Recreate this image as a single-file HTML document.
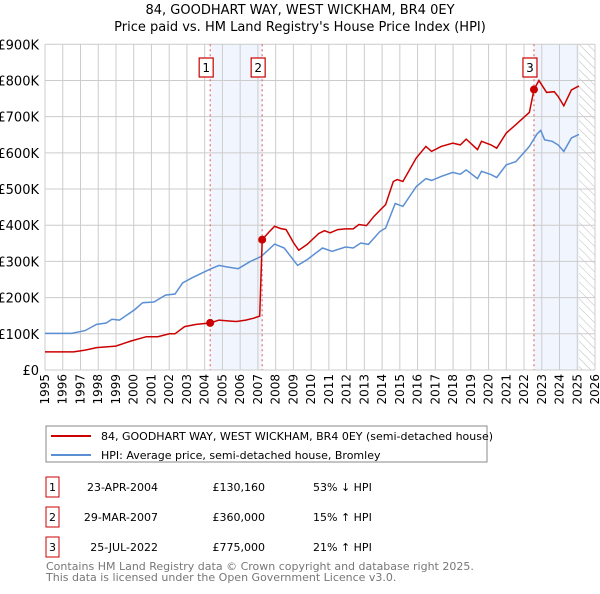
<!DOCTYPE html>
<html><head><meta charset="utf-8"><style>
body{margin:0;background:#fff;font-family:"DejaVu Sans","Liberation Sans",sans-serif;}
svg text{font-family:"DejaVu Sans","Liberation Sans",sans-serif;}
</style></head><body>
<svg id="c" width="600" height="590" xmlns="http://www.w3.org/2000/svg">
<defs><pattern id="hatch" width="6" height="6" patternUnits="userSpaceOnUse" patternTransform="rotate(-45)"><line x1="0" y1="0" x2="0" y2="6" stroke="#bbb" stroke-width="1"/></pattern></defs>
<text x="300" y="14" text-anchor="middle" font-size="13">84, GOODHART WAY, WEST WICKHAM, BR4 0EY</text>
<text x="300" y="31" text-anchor="middle" font-size="13">Price paid vs. HM Land Registry's House Price Index (HPI)</text>
<g id="plot"></g>
<rect x="46" y="426" width="441" height="36" fill="none" stroke="#888"/>
<line x1="51" y1="436" x2="91" y2="436" stroke="#cc0000" stroke-width="2"/>
<text x="101" y="440" font-size="11">84, GOODHART WAY, WEST WICKHAM, BR4 0EY (semi-detached house)</text>
<line x1="51" y1="455" x2="91" y2="455" stroke="#5b8fd4" stroke-width="2"/>
<text x="101" y="459" font-size="11">HPI: Average price, semi-detached house, Bromley</text>
<g id="table" font-size="11"></g>
<text x="46" y="570" font-size="11" fill="#777">Contains HM Land Registry data © Crown copyright and database right 2025.</text>
<text x="46" y="581" font-size="11" fill="#777">This data is licensed under the Open Government Licence v3.0.</text>
</svg>
<script>
const hpiYears=[1995.0,1996.5,1997.26,1997.91,1998.45,1998.77,1999.2,2000.06,2000.5,2001.14,2001.79,2002.33,2002.76,2003.3,2004.27,2004.81,2005.24,2005.89,2006.54,2007.19,2007.94,2008.48,2009.24,2009.78,2010.64,2011.18,2011.94,2012.37,2012.8,2013.23,2013.88,2014.2,2014.74,2015.17,2015.93,2016.47,2016.79,2017.33,2017.98,2018.41,2018.74,2019.38,2019.6,2020.14,2020.46,2021.0,2021.54,2022.3,2022.73,2022.94,2023.16,2023.59,2023.92,2024.24,2024.67,2025.1];
const hpiValues=[101,101,109,126,130,140,138,167,186,188,207,210,241,255,278,289,285,280,299,314,348,337,289,305,337,328,340,337,351,347,383,392,460,452,507,529,524,535,546,541,553,529,549,540,532,567,576,618,652,662,636,632,622,604,641,651];
const ppYears=[1995.0,1996.61,1997.26,1997.91,1998.99,1999.85,2000.71,2001.36,2002.01,2002.33,2002.87,2003.52,2004.31,2004.81,2005.46,2005.78,2006.32,2006.76,2007.1,2007.24,2007.62,2007.94,2008.27,2008.59,2009.02,2009.3,2009.78,2010.42,2010.75,2011.07,2011.5,2011.94,2012.37,2012.69,2013.12,2013.55,2014.2,2014.63,2014.85,2015.17,2015.93,2016.47,2016.79,2017.33,2017.98,2018.41,2018.74,2019.38,2019.6,2020.14,2020.46,2021.0,2021.54,2022.3,2022.56,2022.84,2023.27,2023.7,2023.92,2024.24,2024.67,2025.1];
const ppValues=[50,50,55,62,66,80,92,92,100,100,120,126,130,138,135,134,138,143,149,360,381,397,391,388,351,331,347,377,385,379,388,390,390,402,399,425,457,521,526,521,586,618,604,618,627,622,638,609,632,622,613,655,678,712,775,800,767,769,756,730,774,785];
const saleYears=[2004.31,2007.24,2022.56];
const saleValues=[130160,360000,775000];
const saleLabels=["1","2","3"];
const saleDates=["23-APR-2004","29-MAR-2007","25-JUL-2022"];
const salePrices=["£130,160","£360,000","£775,000"];
const saleHpi=["53% ↓ HPI","15% ↑ HPI","21% ↑ HPI"];
const yTicks=[0,100,200,300,400,500,600,700,800,900];
const yTickLabels=["£0","£100K","£200K","£300K","£400K","£500K","£600K","£700K","£800K","£900K"];
const xTicks=[1995,1996,1997,1998,1999,2000,2001,2002,2003,2004,2005,2006,2007,2008,2009,2010,2011,2012,2013,2014,2015,2016,2017,2018,2019,2020,2021,2022,2023,2024,2025,2026];
const dataEnd=2025.1;

const NS="http://www.w3.org/2000/svg";
const L=45,R=595,T=44.3,B=370;
const x=y=>L+(y-1995)/31*(R-L);
const yv=v=>B-v/900*(B-T);
const plot=document.getElementById('plot');
function mk(tag,attrs,parent){const e=document.createElementNS(NS,tag);for(const k in attrs)e.setAttribute(k,attrs[k]);(parent||plot).appendChild(e);return e;}

let b=mk('rect',{x:x(saleYears[0]),y:T,width:x(saleYears[1])-x(saleYears[0]),height:B-T,fill:'#eef3fc',opacity:0.8});


b=mk('rect',{x:x(saleYears[2]),y:T,width:x(dataEnd)-x(saleYears[2]),height:B-T,fill:'#eef3fc',opacity:0.8});


b=mk('rect',{x:x(dataEnd),y:T,width:R-x(dataEnd),height:B-T,fill:'url(#hatch)'});



xTicks.forEach((t,i)=>{
  const g=mk('line',{x1:x(t),x2:x(t),y1:T,y2:B,stroke:'#ccc','stroke-width':1});
  
  
  const tx=mk('text',{x:0,y:0,'font-size':12,'text-anchor':'end',transform:`translate(${x(t)+4},${B+4}) rotate(-90)`});
  tx.textContent=String(t);
  
  
});
yTicks.forEach((t,i)=>{
  const g=mk('line',{x1:L,x2:R,y1:yv(t),y2:yv(t),stroke:'#ccc','stroke-width':1});
  
  
  const tx=mk('text',{x:L-6,y:yv(t)+5,'font-size':13,'text-anchor':'end'});
  tx.textContent=yTickLabels[i];
  
  
});

saleYears.forEach((s,i)=>{
  const l=mk('line',{x1:x(s),x2:x(s),y1:T,y2:B,stroke:'#e05555','stroke-width':1,'stroke-dasharray':'2,3'});
  
  
  const r=mk('rect',{x:x(s)-11,y:58,width:14,height:19,fill:'#fff',stroke:'#cc0000','stroke-width':1.2});
  
  
  const t=mk('text',{x:x(s)-4,y:72,'font-size':12,'text-anchor':'middle'});
  t.textContent=saleLabels[i];
  
  
});

const pth=(xs,vs)=>xs.map((a,i)=>(i?'L':'M')+x(a).toFixed(1)+','+yv(vs[i]).toFixed(1)).join('');
let p=mk('path',{d:pth(hpiYears,hpiValues),fill:'none',stroke:'#5b8fd4','stroke-width':1.5});


p=mk('path',{d:pth(ppYears,ppValues),fill:'none',stroke:'#cc0000','stroke-width':1.5});


saleYears.forEach((s,i)=>{
  const c=mk('circle',{cx:x(s),cy:yv(saleValues[i]/1000),r:4,fill:'#cc0000'});
  
  
});

const tb=document.getElementById('table');
saleYears.forEach((s,i)=>{
  const y0=483+i*30;
  const r=mk('rect',{x:46,y:y0-6,width:13,height:20,fill:'#fff',stroke:'#cc0000','stroke-width':1},tb);
  
  
  const cols=[[52.5,'middle',saleLabels[i]],[158,'end',saleDates[i]],[265,'end',salePrices[i]],[313,'start',saleHpi[i]]];
  const names=['table-row-number','table-row-date','table-row-price','table-row-hpi'];
  cols.forEach((c,j)=>{
    const t=mk('text',{x:c[0],y:y0+8,'text-anchor':c[1],'font-size':11},tb);
    t.textContent=c[2];
    
    
  });
});
</script>
</body></html>
